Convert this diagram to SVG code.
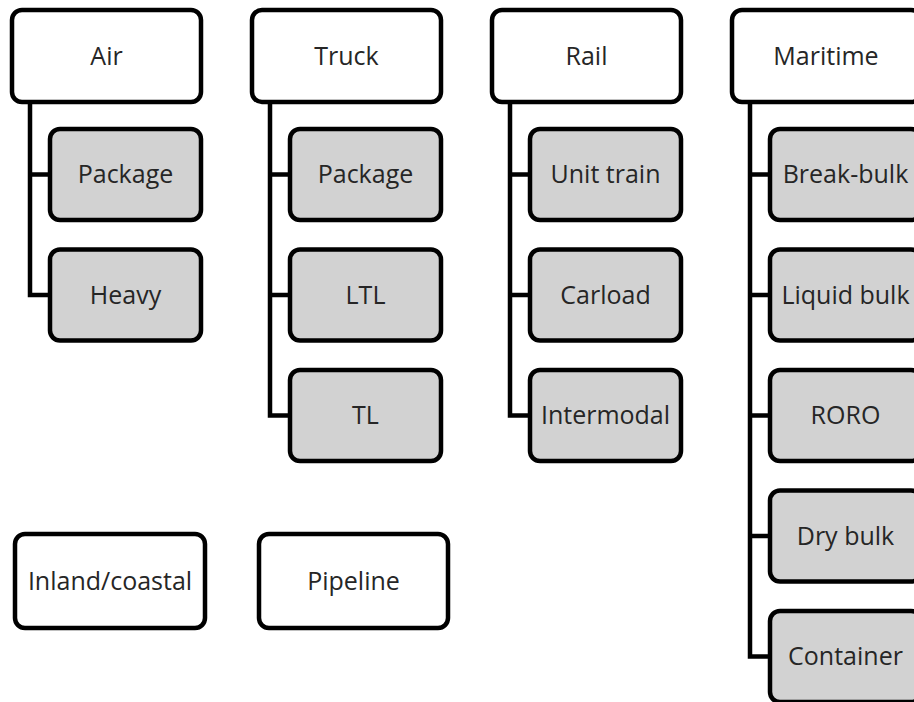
<svg xmlns="http://www.w3.org/2000/svg" width="914" height="702" viewBox="0 0 914 702">
<style>
.p rect{fill:#ffffff;stroke:#000;stroke-width:4.5}
.c rect{fill:#d2d2d2;stroke:#000;stroke-width:4.5}
text{font-family:"Open Sans","Noto Sans","Liberation Sans",sans-serif;font-size:25px;fill:#262626;text-anchor:middle}
.con path{fill:none;stroke:#000;stroke-width:4.5}
</style>
<rect width="914" height="702" fill="#fff"/>
<g class="con">
<path d="M30 104V174.5H48M30 174.5V295H48"/>
<path d="M270 104V174.5H288M270 174.5V295H288M270 295V415.5H288"/>
<path d="M510 104V174.5H528M510 174.5V295H528M510 295V415.5H528"/>
<path d="M750 104V174.5H768M750 174.5V295H768M750 295V415.5H768M750 415.5V536H768M750 536V656.5H768"/>
</g>
<g id="air" class="p"><rect x="12" y="10" width="189" height="92" rx="10"/><text x="106.5" y="65">Air</text></g>
<g id="air-package" class="c"><rect x="50" y="129" width="151" height="91" rx="10"/><text x="125.5" y="183">Package</text></g>
<g id="air-heavy" class="c"><rect x="50" y="249.5" width="151" height="91" rx="10"/><text x="125.5" y="304">Heavy</text></g>
<g id="truck" class="p"><rect x="252" y="10" width="189" height="92" rx="10"/><text x="346.5" y="65">Truck</text></g>
<g id="truck-package" class="c"><rect x="290" y="129" width="151" height="91" rx="10"/><text x="365.5" y="183">Package</text></g>
<g id="truck-ltl" class="c"><rect x="290" y="249.5" width="151" height="91" rx="10"/><text x="365.5" y="304">LTL</text></g>
<g id="truck-tl" class="c"><rect x="290" y="370" width="151" height="91" rx="10"/><text x="365.5" y="424">TL</text></g>
<g id="rail" class="p"><rect x="492" y="10" width="189" height="92" rx="10"/><text x="586.5" y="65">Rail</text></g>
<g id="rail-unit" class="c"><rect x="530" y="129" width="151" height="91" rx="10"/><text x="605.5" y="183">Unit train</text></g>
<g id="rail-carload" class="c"><rect x="530" y="249.5" width="151" height="91" rx="10"/><text x="605.5" y="304">Carload</text></g>
<g id="rail-intermodal" class="c"><rect x="530" y="370" width="151" height="91" rx="10"/><text x="605.5" y="424">Intermodal</text></g>
<g id="maritime" class="p"><rect x="732" y="10" width="189" height="92" rx="10"/><text x="826" y="65">Maritime</text></g>
<g id="mar-breakbulk" class="c"><rect x="770" y="129" width="151" height="91" rx="10"/><text x="845.5" y="183">Break-bulk</text></g>
<g id="mar-liquid" class="c"><rect x="770" y="249.5" width="151" height="91" rx="10"/><text x="845.5" y="304">Liquid bulk</text></g>
<g id="mar-roro" class="c"><rect x="770" y="370" width="151" height="91" rx="10"/><text x="845.5" y="424">RORO</text></g>
<g id="mar-drybulk" class="c"><rect x="770" y="490.5" width="151" height="91" rx="10"/><text x="845.5" y="545">Dry bulk</text></g>
<g id="mar-container" class="c"><rect x="770" y="611" width="151" height="91" rx="10"/><text x="845.5" y="665">Container</text></g>
<g id="inland" class="p"><rect x="15" y="534" width="190" height="94" rx="10"/><text x="110" y="590">Inland/coastal</text></g>
<g id="pipeline" class="p"><rect x="259" y="534" width="189" height="94" rx="10"/><text x="353.5" y="590">Pipeline</text></g>
</svg>
